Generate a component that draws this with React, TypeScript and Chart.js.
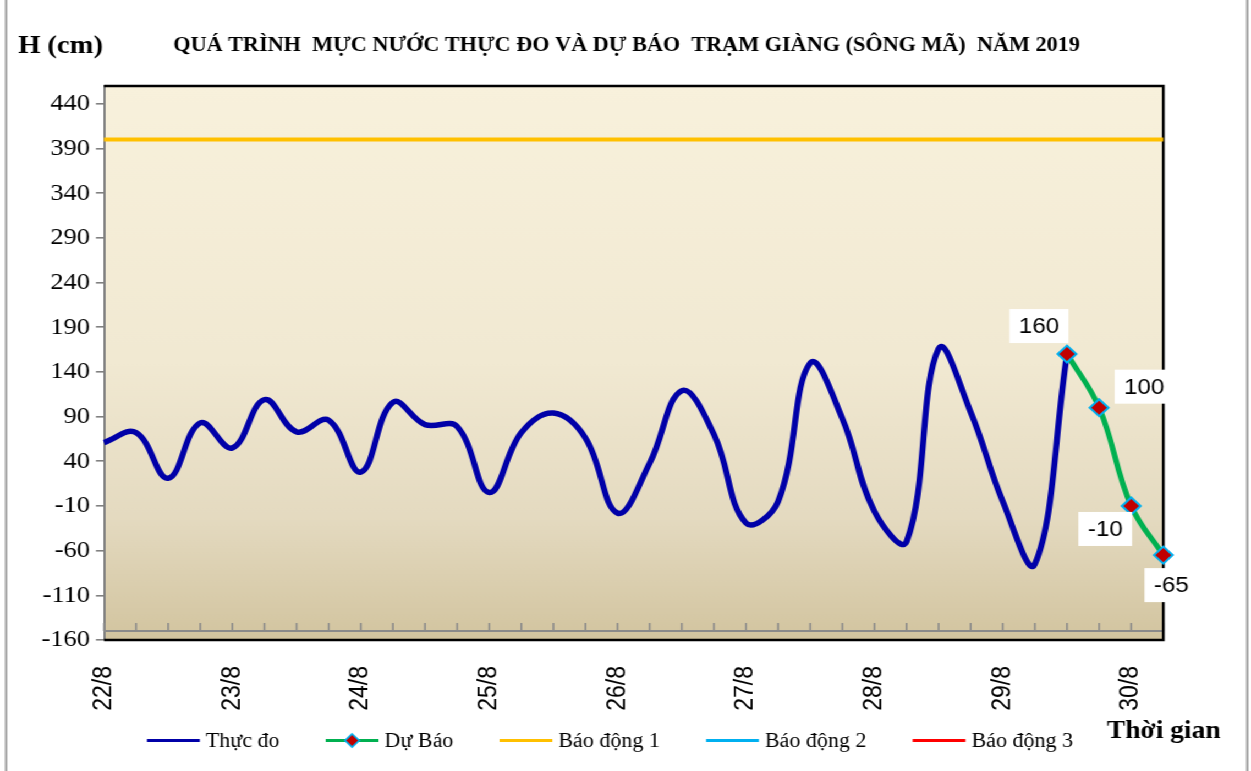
import React, { useEffect, useRef } from 'react';
import { Chart, registerables } from 'chart.js';

Chart.register(...registerables);

// ---------- data ----------
const dayLabels = ['22/8', '23/8', '24/8', '25/8', '26/8', '27/8', '28/8', '29/8', '30/8'];
const STEPS_PER_DAY = 4; // one reading every 6 hours
const NUM_STEPS = 34;
const categories: string[] = Array.from({ length: NUM_STEPS }, (_, i) =>
  i % STEPS_PER_DAY === 0 ? dayLabels[i / STEPS_PER_DAY] : ''
);

// Thực đo (observed), cm
const observed: number[] = [
  61, 72, 21, 83, 55, 109, 73, 86, 28, 106, 81, 79, 5, 72, 94, 66, -18, 38, 119, 70,
  -29, -5, 150, 88, -16, -50, 166, 95, -5, -75, 160,
];
// Dự Báo (forecast), starts at step 30
const FORECAST_START = 30;
const forecastValues: number[] = [160, 100, -10, -65];

// Alarm levels (Báo động 1, 2, 3), cm
const alarmLevels: number[] = [400, 500, 600];
const alarmNames: string[] = ['Báo động 1', 'Báo động 2', 'Báo động 3'];
const alarmColors: string[] = ['#FFC000', '#00B0F0', '#FF0000'];

const yTicks: number[] = [-160, -110, -60, -10, 40, 90, 140, 190, 240, 290, 340, 390, 440];
const Y_MIN = -160;
const Y_MAX = 460;
const CATEGORY_AXIS_VALUE = -150;

const TITLE = 'QUÁ TRÌNH  MỰC NƯỚC THỰC ĐO VÀ DỰ BÁO  TRẠM GIÀNG (SÔNG MÃ)  NĂM 2019';
const Y_TITLE = 'H (cm)';
const X_TITLE = 'Thời gian';

// ---------- layout (canvas units; canvas is stretched horizontally) ----------
const W = 1137;
const H = 771;
const SX = 1251 / W;
const PLOT_LEFT = 94.5;
const PLOT_RIGHT = 1057.3;
const PLOT_TOP = 86;
const PLOT_BOTTOM = 640;

const forecastLabelOffsets: [number, number][] = [
  [-25.5, -28],
  [41, -21],
  [-23.6, 23],
  [7.3, 30],
];

const SERIF = '"Liberation Serif", "Times New Roman", Times, serif';
const SANS = '"Liberation Sans", Arial, Helvetica, sans-serif';

const observedData = categories.map((_, i) => (i < observed.length ? observed[i] : null));
const forecastData = categories.map((_, i) =>
  i >= FORECAST_START && i < FORECAST_START + forecastValues.length ? forecastValues[i - FORECAST_START] : null
);

function drawDiamond(ctx: CanvasRenderingContext2D, x: number, y: number, r: number, fill: string, stroke: string, lw: number) {
  ctx.beginPath();
  ctx.moveTo(x, y - r);
  ctx.lineTo(x + r, y);
  ctx.lineTo(x, y + r);
  ctx.lineTo(x - r, y);
  ctx.closePath();
  ctx.fillStyle = fill;
  ctx.fill();
  ctx.lineWidth = lw;
  ctx.strokeStyle = stroke;
  ctx.stroke();
}

const decorPlugin = {
  id: 'decor',
  beforeDraw(chart: any) {
    const { ctx, chartArea: a, width, height } = chart;
    ctx.save();
    ctx.fillStyle = '#ffffff';
    ctx.fillRect(0, 0, width, height);
    const g = ctx.createLinearGradient(0, a.top, 0, a.bottom);
    g.addColorStop(0, '#F8F1DC');
    g.addColorStop(0.5, '#F1E9D2');
    g.addColorStop(0.78, '#E4DAC0');
    g.addColorStop(1, '#D2C49F');
    ctx.fillStyle = g;
    ctx.fillRect(a.left, a.top, a.right - a.left, a.bottom - a.top);
    // outer frame
    ctx.strokeStyle = '#9a9a9a';
    ctx.lineWidth = 2;
    ctx.beginPath();
    ctx.moveTo(5.5, 0);
    ctx.lineTo(5.5, height);
    ctx.moveTo(1133.6, 0);
    ctx.lineTo(1133.6, height);
    ctx.stroke();
    ctx.restore();
  },
  beforeDatasetsDraw(chart: any) {
    const { ctx, chartArea: a, scales } = chart;
    const xs = scales.x;
    const ys = scales.y;
    ctx.save();
    const y0 = ys.getPixelForValue(CATEGORY_AXIS_VALUE);
    ctx.strokeStyle = '#8a8a8a';
    ctx.lineWidth = 2;
    ctx.beginPath();
    ctx.moveTo(a.left, y0);
    ctx.lineTo(a.right, y0);
    ctx.stroke();
    ctx.lineWidth = 1.6;
    ctx.beginPath();
    for (let i = 0; i < categories.length; i++) {
      const px = xs.getPixelForValue(i);
      ctx.moveTo(px, y0);
      ctx.lineTo(px, y0 - 8);
    }
    ctx.stroke();
    // plot border (top, right, bottom)
    ctx.strokeStyle = '#000000';
    ctx.lineWidth = 2.5;
    ctx.beginPath();
    ctx.moveTo(a.left, a.top);
    ctx.lineTo(a.right, a.top);
    ctx.lineTo(a.right, a.bottom);
    ctx.lineTo(a.left, a.bottom);
    ctx.stroke();
    ctx.restore();
  },
  afterDatasetsDraw(chart: any) {
    const { ctx } = chart;
    const meta = chart.getDatasetMeta(1);
    const data = chart.data.datasets[1].data;
    ctx.save();
    ctx.font = `22px ${SANS}`;
    ctx.textAlign = 'center';
    ctx.textBaseline = 'middle';
    meta.data.forEach((pt: any, i: number) => {
      const v = data[i];
      if (v === null || v === undefined) return;
      const off = forecastLabelOffsets[i - FORECAST_START];
      const cx = pt.x + off[0];
      const cy = pt.y + off[1];
      const text = String(v);
      const tw = ctx.measureText(text).width;
      const bw = tw + 17;
      const bh = 34;
      ctx.fillStyle = '#ffffff';
      ctx.fillRect(cx - bw / 2, cy - bh / 2, bw, bh);
      ctx.fillStyle = '#000000';
      ctx.fillText(text, cx, cy + 1);
    });
    ctx.restore();
  },
  afterDraw(chart: any) {
    const { ctx } = chart;
    ctx.save();
    ctx.fillStyle = '#000000';
    ctx.textBaseline = 'alphabetic';
    // title
    ctx.font = `bold 20.2px ${SERIF}`;
    ctx.textAlign = 'center';
    ctx.fillText(TITLE, 569.5, 51);
    // axis titles
    ctx.textAlign = 'left';
    ctx.font = `bold 26px ${SERIF}`;
    ctx.fillText(Y_TITLE, 16.4, 53);
    ctx.font = `bold 25px ${SERIF}`;
    ctx.fillText(X_TITLE, 1006, 738);
    // legend
    ctx.font = `20px ${SERIF}`;
    let x = 133.6;
    const ly = 740.5;
    chart.data.datasets.forEach((ds: any) => {
      ctx.strokeStyle = ds.borderColor;
      ctx.lineWidth = 3;
      ctx.beginPath();
      ctx.moveTo(x, ly);
      ctx.lineTo(x + 48, ly);
      ctx.stroke();
      if (ds.pointRadius > 0) {
        drawDiamond(ctx, x + 24, ly, 6.5, ds.pointBackgroundColor, ds.pointBorderColor, 1.6);
      }
      ctx.fillStyle = '#000000';
      ctx.fillText(ds.label, x + 53.5, 747);
      x += 53.5 + ctx.measureText(ds.label).width + 42;
    });
    ctx.restore();
  },
};

export default function App() {
  const ref = useRef<HTMLCanvasElement>(null);

  useEffect(() => {
    const canvas = ref.current;
    if (!canvas) return;
    const chart = new Chart(canvas, {
      type: 'line',
      data: {
        labels: categories,
        datasets: [
          {
            label: 'Thực đo',
            data: observedData,
            borderColor: '#0000A8',
            backgroundColor: '#0000A8',
            borderWidth: 5.5,
            pointRadius: 0,
            tension: 0.4,
            fill: false,
            order: 1,
          },
          {
            label: 'Dự Báo',
            data: forecastData,
            borderColor: '#00B050',
            backgroundColor: '#00B050',
            borderWidth: 5,
            pointStyle: 'rectRot',
            pointRadius: 8.5,
            pointBackgroundColor: '#C00000',
            pointBorderColor: '#00B0F0',
            pointBorderWidth: 2,
            tension: 0.4,
            fill: false,
            clip: 20,
            order: 0,
          },
          ...alarmLevels.map((lvl, k) => ({
            label: alarmNames[k],
            data: categories.map(() => lvl),
            borderColor: alarmColors[k],
            backgroundColor: alarmColors[k],
            borderWidth: 4,
            pointRadius: 0,
            fill: false,
            order: 2,
          })),
        ],
      } as any,
      options: {
        animation: false,
        responsive: false,
        devicePixelRatio: 1,
        events: [],
        layout: {
          padding: { left: 0, right: W - PLOT_RIGHT, top: PLOT_TOP, bottom: 0 },
        },
        plugins: {
          legend: { display: false },
          tooltip: { enabled: false },
          title: { display: false },
        },
        scales: {
          x: {
            type: 'category',
            offset: false,
            grid: { display: false, drawTicks: false },
            border: { display: false },
            ticks: {
              autoSkip: false,
              minRotation: 90,
              maxRotation: 90,
              padding: 26,
              color: '#000000',
              font: { family: SANS, size: 23 },
            },
            afterFit: (s: any) => {
              s.height = H - PLOT_BOTTOM;
            },
          },
          y: {
            type: 'linear',
            min: Y_MIN,
            max: Y_MAX,
            afterBuildTicks: (s: any) => {
              s.ticks = yTicks.map((v) => ({ value: v }));
            },
            grid: { drawOnChartArea: false, drawTicks: true, tickLength: 7.3, color: '#808080', lineWidth: 1.6 },
            border: { display: true, color: '#808080', width: 2 },
            ticks: {
              padding: 5.4,
              color: '#000000',
              font: { family: SERIF, size: 24 },
            },
            afterFit: (s: any) => {
              s.width = PLOT_LEFT;
            },
          },
        },
      } as any,
      plugins: [decorPlugin],
    });
    return () => chart.destroy();
  }, []);

  return (
    <div
      style={{
        position: 'absolute',
        left: 0,
        top: 0,
        width: W,
        height: H,
        transform: `scaleX(${SX})`,
        transformOrigin: '0 0',
        background: '#ffffff',
      }}
    >
      <canvas ref={ref} width={W} height={H} style={{ width: `${W}px`, height: `${H}px`, display: 'block' }} />
    </div>
  );
}
